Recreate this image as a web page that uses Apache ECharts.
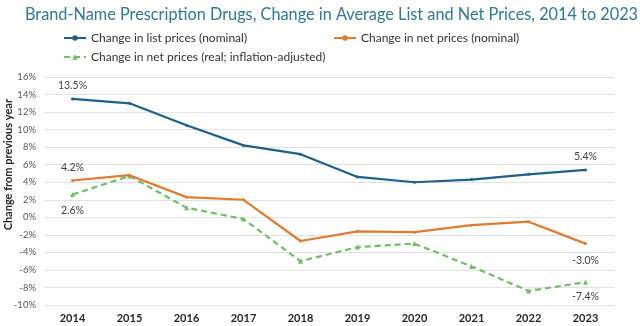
<!DOCTYPE html>
<html><head><meta charset="utf-8">
<script src="https://cdn.jsdelivr.net/npm/echarts@6/dist/echarts.min.js"></script>
<style>html,body{margin:0;padding:0;background:#fff}#c{width:640px;height:326px}</style>
</head><body><div id="c"></div>
<script>
const years = ['2014','2015','2016','2017','2018','2019','2020','2021','2022','2023'];
const listNominal = [13.5, 13.0, 10.5, 8.2, 7.2, 4.6, 4.0, 4.3, 4.9, 5.4];
const netNominal = [4.2, 4.8, 2.3, 2.0, -2.7, -1.6, -1.7, -0.9, -0.5, -3.0];
const netReal = [2.6, 4.7, 1.1, -0.2, -5.0, -3.4, -3.0, -5.6, -8.4, -7.4];
const yTicks = [-10, -8, -6, -4, -2, 0, 2, 4, 6, 8, 10, 12, 14, 16];
const names = ['Change in list prices (nominal)', 'Change in net prices (nominal)', 'Change in net prices (real; inflation-adjusted)'];

const FONT = 'Lato';
function lbl(pos, dist) {
  return { show: true, position: pos, formatter: p => p.value.toFixed(1) + '%', color: '#404040', fontSize: 10.5, fontFamily: FONT, distance: dist };
}
function withLabels(arr, firstPos, firstDist, lastPos, lastDist) {
  return arr.map((v, i) => {
    if (i === 0) return { value: v, label: lbl(firstPos, firstDist) };
    if (i === arr.length - 1) return { value: v, label: lbl(lastPos, lastDist) };
    return v;
  });
}
const legendText = { fontSize: 12, color: '#333', fontFamily: FONT };
const chart = echarts.init(document.getElementById('c'));
chart.setOption({
  animation: false,
  title: { text: 'Brand-Name Prescription Drugs, Change in Average List and Net Prices, 2014 to 2023', left: 20, top: 2,
    textStyle: { color: '#2f7896', fontSize: 16.3, fontWeight: 'normal', fontFamily: FONT } },
  legend: [
    { data: [names[0]], left: 58, top: 27, itemWidth: 22, itemHeight: 7, itemGap: 4, textStyle: legendText },
    { data: [names[1]], left: 328, top: 27, itemWidth: 22, itemHeight: 7, textStyle: legendText },
    { data: [names[2]], left: 58, top: 46, itemWidth: 22, itemHeight: 7, textStyle: legendText }
  ],
  grid: { left: 44, right: 26, top: 77, bottom: 21 },
  xAxis: { type: 'category', data: years, boundaryGap: true,
    axisLine: { show: false },
    axisTick: { show: false },
    axisLabel: { fontWeight: 'bold', fontSize: 11, color: '#262626', fontFamily: FONT, margin: 8 } },
  yAxis: { type: 'value', min: yTicks[0], max: yTicks[yTicks.length - 1], interval: 2,
    axisLabel: { formatter: v => v + '%', fontSize: 9.5, color: '#595959', fontFamily: FONT, margin: 8 },
    splitLine: { lineStyle: { color: '#e2e2e2' } }, axisLine: { show: false }, axisTick: { show: false } },
  graphic: [
    { type: 'text', left: 3, top: 99, rotation: Math.PI / 2,
      style: { text: 'Change from previous year', fontSize: 11, fontWeight: 'bold', fill: '#262626', fontFamily: FONT } },
    { type: 'line', shape: { x1: 44, y1: 217.5, x2: 614, y2: 217.5 }, style: { stroke: '#c4c4c4', lineWidth: 1 } }
  ],
  series: [
    { name: names[0], type: 'line', data: withLabels(listNominal, 'top', 6, 'top', 6), color: '#1f5f8b',
      lineStyle: { width: 2.2 }, symbol: 'circle', symbolSize: 3, z: 3 },
    { name: names[1], type: 'line', data: withLabels(netNominal, 'top', 6, 'bottom', 10), color: '#e07b2f',
      lineStyle: { width: 2.2 }, symbol: 'circle', symbolSize: 3, z: 2 },
    { name: names[2], type: 'line', data: withLabels(netReal, 'bottom', 8, 'bottom', 6), color: '#72bd6a',
      lineStyle: { width: 2.2, type: [6, 4] }, symbol: 'triangle', symbolSize: 5, z: 1 }
  ]
});
</script></body></html>
